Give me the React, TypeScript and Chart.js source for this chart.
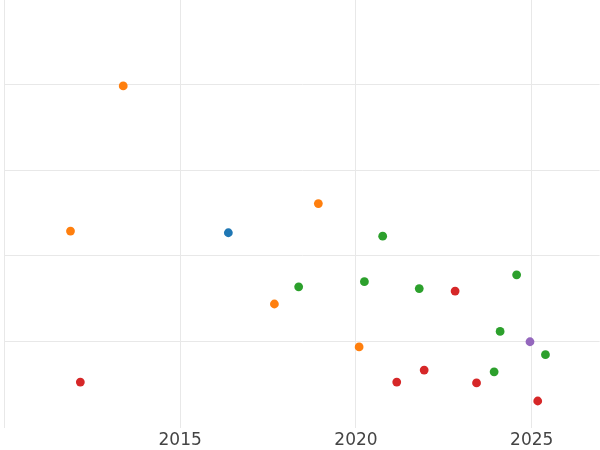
import React, { useEffect, useRef } from "react";
import { Chart, registerables } from "chart.js";

Chart.register(...registerables);

const xTickValues = [2015, 2020, 2025];
const yTickValues = [1, 2, 3, 4];

const orangeX = [2013.38, 2011.88, 2018.93, 2017.68, 2020.09];
const orangeY = [3.98, 2.29, 2.61, 1.44, 0.94];

const blueX = [2016.37];
const blueY = [2.27];

const greenX = [2020.76, 2018.37, 2020.24, 2021.8, 2024.57, 2024.1, 2023.93, 2025.39];
const greenY = [2.23, 1.64, 1.7, 1.62, 1.78, 1.12, 0.65, 0.85];

const redX = [2022.82, 2012.16, 2021.16, 2021.94, 2023.43, 2025.17];
const redY = [1.59, 0.53, 0.53, 0.67, 0.52, 0.31];

const purpleX = [2024.95];
const purpleY = [1.0];

const toPoints = (xs: number[], ys: number[]) => xs.map((x, i) => ({ x, y: ys[i] }));

const seriesList = [
  { label: "blue", xs: blueX, ys: blueY, color: "#1f77b4" },
  { label: "orange", xs: orangeX, ys: orangeY, color: "#ff7f0e" },
  { label: "green", xs: greenX, ys: greenY, color: "#2ca02c" },
  { label: "red", xs: redX, ys: redY, color: "#d62728" },
  { label: "purple", xs: purpleX, ys: purpleY, color: "#9467bd" },
];

export default function App() {
  const canvasRef = useRef<HTMLCanvasElement | null>(null);

  useEffect(() => {
    if (!canvasRef.current) return;
    const gridColor = "#e8e8e8";
    const chart = new Chart(canvasRef.current, {
      type: "scatter",
      data: {
        datasets: seriesList.map((s) => ({
          label: s.label,
          data: toPoints(s.xs, s.ys),
          backgroundColor: s.color,
          borderColor: s.color,
          borderWidth: 0,
          pointRadius: 4.4,
          pointHoverRadius: 4.4,
        })),
      },
      options: {
        animation: false,
        responsive: false,
        maintainAspectRatio: false,
        layout: { padding: { left: 4, right: 0, top: 0, bottom: 0 } },
        plugins: {
          legend: { display: false },
          tooltip: { enabled: false },
        },
        scales: {
          x: {
            type: "linear",
            min: 2010,
            max: 2026.93,
            afterBuildTicks: (scale: any) => {
              scale.ticks = xTickValues.map((v) => ({ value: v }));
            },
            grid: { color: gridColor, lineWidth: 1, drawTicks: false },
            border: { display: false },
            ticks: {
              padding: 3,
              color: "#444444",
              font: { family: "DejaVu Sans", size: 17 },
              maxRotation: 0,
              callback: (v: any) => String(v),
            },
          },
          y: {
            type: "linear",
            min: 0,
            max: 5,
            afterBuildTicks: (scale: any) => {
              scale.ticks = yTickValues.map((v) => ({ value: v }));
            },
            grid: { color: gridColor, lineWidth: 1, drawTicks: false },
            border: { display: true, color: gridColor, width: 1 },
            ticks: { display: false },
          },
        },
      },
    });
    return () => chart.destroy();
  }, []);

  return (
    <div
      style={{
        position: "fixed",
        left: 0,
        top: 0,
        width: 600,
        height: 450,
        overflow: "hidden",
        background: "#ffffff",
      }}
    >
      <div style={{ position: "absolute", left: 0, top: -6, width: 604, height: 460 }}>
        <canvas ref={canvasRef} width={604} height={460} style={{ display: "block" }} />
      </div>
    </div>
  );
}
